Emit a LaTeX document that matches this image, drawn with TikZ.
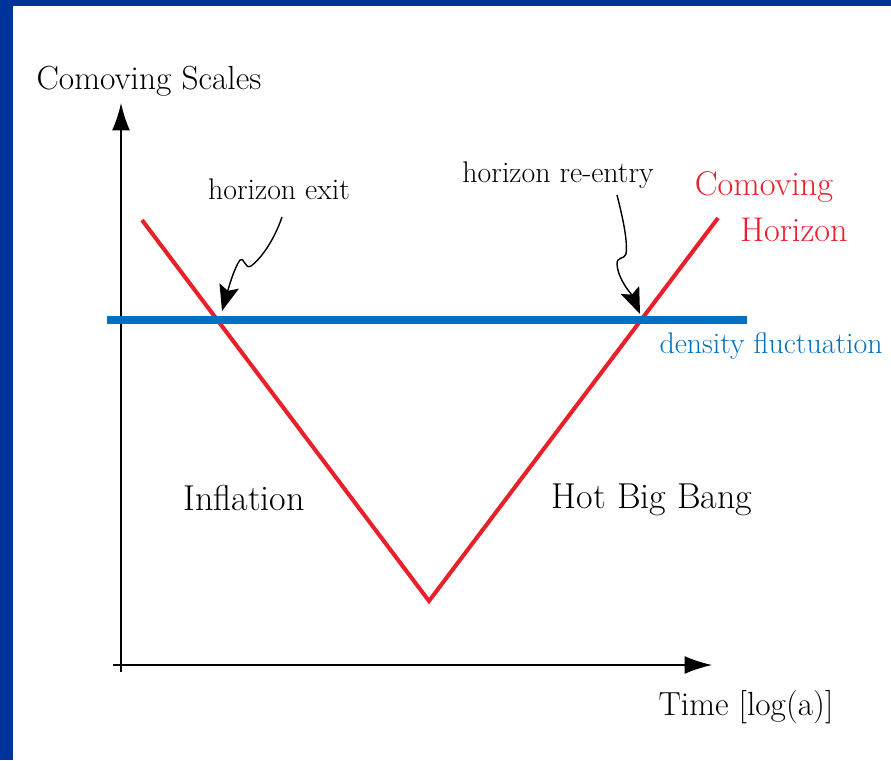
\documentclass[tikz,border=0pt]{standalone}
\usepackage{tikz}
\usetikzlibrary{arrows.meta}

\definecolor{slideblue}{RGB}{0,51,153}
\definecolor{horizonred}{RGB}{232,32,42}
\definecolor{flucblue}{RGB}{0,112,192}

\tikzset{
  axistext/.style={font=\fontsize{19}{22}\selectfont, anchor=base, inner sep=0pt},
  bigtext/.style={font=\fontsize{20.5}{24}\selectfont, anchor=base, inner sep=0pt},
  smalltext/.style={font=\fontsize{17}{20}\selectfont, anchor=base, inner sep=0pt},
  axis/.style={line width=0.9pt, -{Latex[length=0.55cm,width=0.36cm]}},
  pointer/.style={line width=0.8pt, -{Stealth[length=0.52cm,width=0.4cm,inset=0.1cm]}},
}

\begin{document}
\begin{tikzpicture}[x=0.02cm,y=-0.02cm]
\useasboundingbox (0,0) rectangle (891,760);

%%% --- Slide frame --- %%%
\fill[slideblue] (0,0) rectangle (891,6);
\fill[slideblue] (0,0) rectangle (13,760);


%%% --- Axes --- %%%
\coordinate (ybot) at (121,672);
\coordinate (ytop) at (121,103);
\coordinate (xleft) at (113,665);
\coordinate (xright) at (712,665);
\draw[axis] (ybot) -- (ytop);
\draw[axis] (xleft) -- (xright);

\node[axistext] (ylabel) at (149,90) {Comoving Scales};
\node[axistext] (xlabel) at (746,715) {Time [log(a)]};


%%% --- Comoving horizon --- %%%
\coordinate (hstart) at (142,220);
\coordinate (hmin) at (429,601);
\coordinate (hend) at (718,218);
\draw[horizonred, line width=2.3pt] (hstart) -- (hmin) -- (hend);

\node[axistext, font=\fontsize{19.5}{22}\selectfont, text=horizonred] (hlabela) at (764,195) {Comoving};
\node[axistext, font=\fontsize{19.5}{22}\selectfont, text=horizonred] (hlabelb) at (794,241) {Horizon};


%%% --- Density fluctuation --- %%%
\coordinate (fleft) at (107,320);
\coordinate (fright) at (747,320);
\draw[flucblue, line width=4pt] (fleft) -- (fright);

\node[smalltext, text=flucblue] (fluclabel) at (771,353) {density fluctuation};


%%% --- Eras --- %%%
\node[bigtext] (inflation) at (244,510) {Inflation};
\node[bigtext] (hotbang) at (652,508) {Hot Big Bang};


%%% --- Horizon crossings --- %%%
\node[smalltext] (exittxt) at (279,199) {horizon exit};
\node[smalltext] (reentrytxt) at (558,182) {horizon re-entry};

\coordinate (exitfrom) at (282,217);
\coordinate (exit) at (222,311);
\coordinate (reentryfrom) at (617,195);
\coordinate (reentry) at (640,314);

% wiggly pointers
\draw[pointer] (exitfrom) .. controls (275,238) and (262,258) .. (251,266)
  .. controls (245,270) and (244,256) .. (240,260)
  .. controls (234,268) and (228,290) .. (exit);
\draw[pointer] (reentryfrom) .. controls (622,215) and (628,240) .. (626,254)
  .. controls (624,260) and (617,256) .. (617,264)
  .. controls (618,280) and (632,295) .. (reentry);

\end{tikzpicture}
\end{document}
